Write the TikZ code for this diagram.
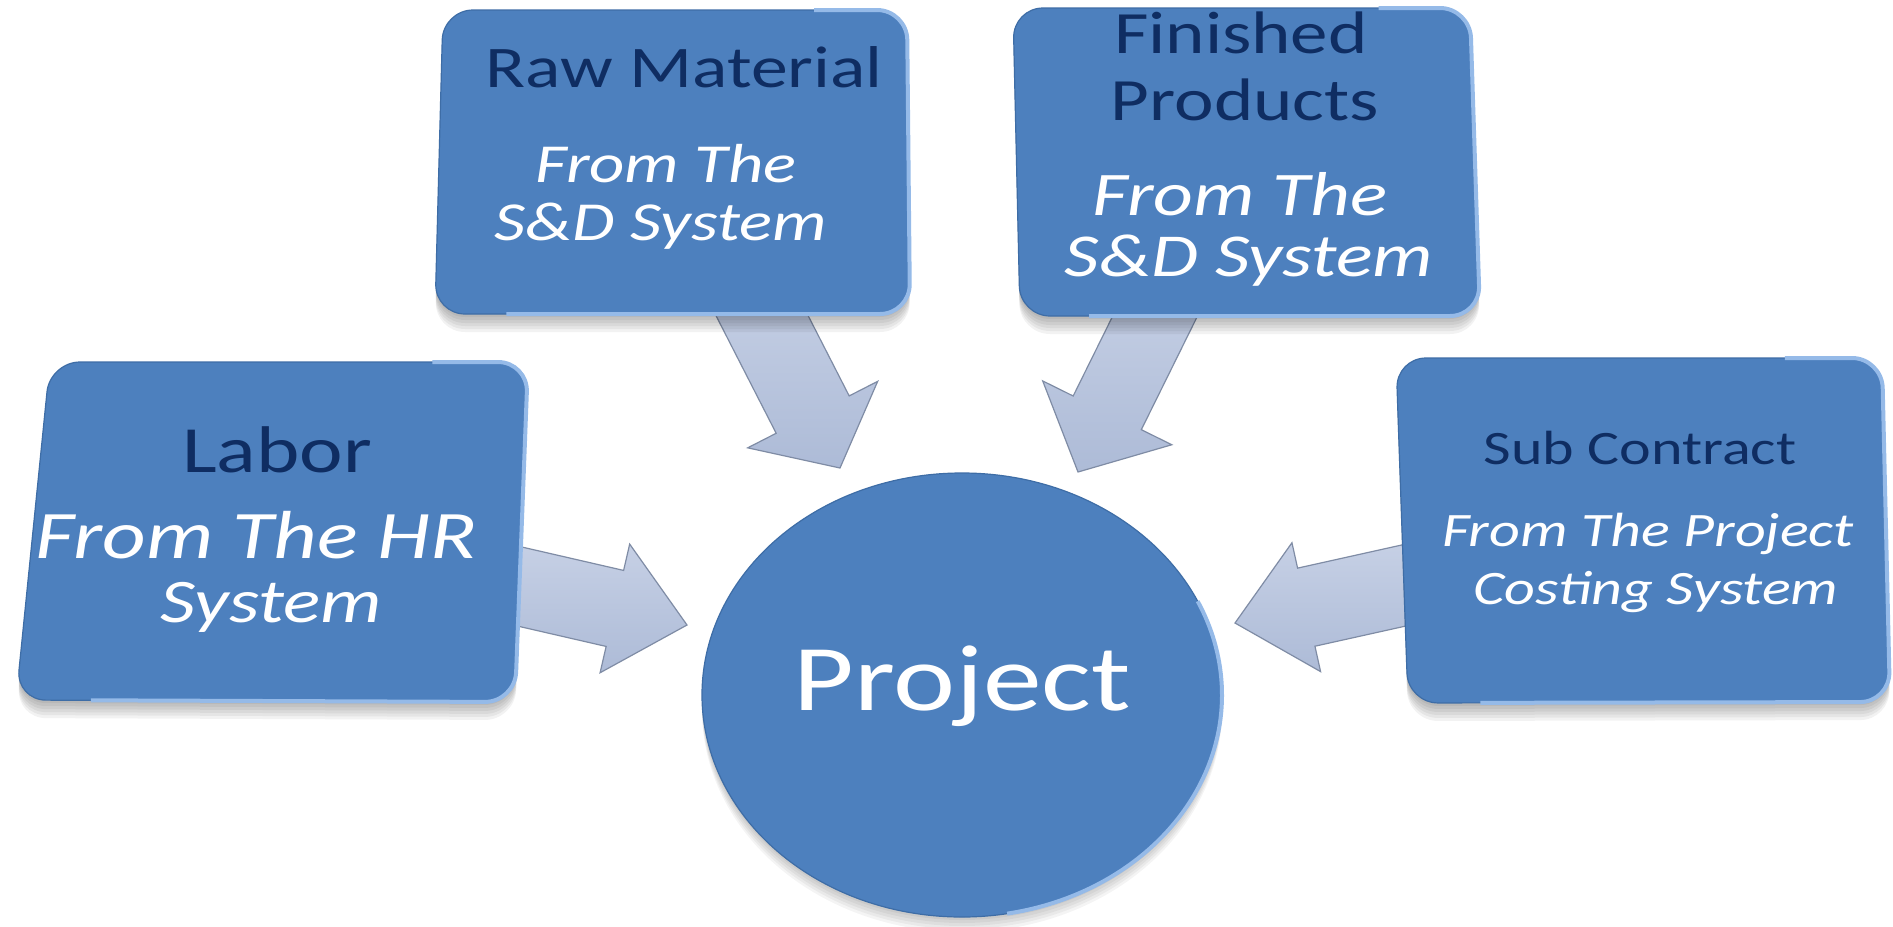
\documentclass[tikz,border=0pt]{standalone}
\usepackage{fontspec}
\setmainfont[FakeStretch=1.25]{Carlito}
\usetikzlibrary{calc,shapes.geometric}
\definecolor{boxblue}{HTML}{4D80BE}
\definecolor{boxrim}{HTML}{95BAE8}
\definecolor{boxedge}{HTML}{3E6DA6}
\definecolor{navy}{HTML}{0F2D62}
\definecolor{arrowtop}{HTML}{C6D0E5}
\definecolor{arrowbot}{HTML}{ADBBD7}
\definecolor{arrowedge}{HTML}{7F8CA5}
\newcommand{\quadbox}[4]{%
  \foreach \s in {3,6,...,18}{
    \fill[black,opacity=0.05,rounded corners=15pt,shift={(0,\s)}]
      ($(#1)!0.5!(#2)$) -- (#2) -- (#3) -- (#4) -- (#1) -- cycle;
  }
  \fill[boxblue,rounded corners=15pt]
    ($(#1)!0.5!(#2)$) -- (#2) -- (#3) -- (#4) -- (#1) -- cycle;
  \draw[boxedge,line width=0.6pt,rounded corners=15pt]
    ($(#1)!0.5!(#2)$) -- (#2) -- (#3) -- (#4) -- (#1) -- cycle;
  \draw[boxrim,line width=2pt,rounded corners=15pt]
    ($(#1)!0.8!(#2)$) -- (#2) -- (#3) -- ($(#3)!0.85!(#4)$);
}
\newcommand{\blkarrow}[5]{%
  \coordinate (#1-n) at ($(#2)!#5!(#1)$);
  \path[top color=arrowtop,bottom color=arrowbot,draw=arrowedge,line width=0.6pt]
    ($(#1)!#3!90:(#2)$) -- ($(#1-n)!#3!90:(#2)$) -- ($(#1-n)!#4!90:(#2)$) -- (#2)
    -- ($(#1-n)!#4!270:(#2)$) -- ($(#1-n)!#3!270:(#2)$) -- ($(#1)!#3!270:(#2)$) -- cycle;
}
\tikzset{
  hdr/.style={font=\fontsize{#1}{#1}\selectfont, text=navy, anchor=base, inner sep=0pt},
  subt/.style={font=\fontsize{#1}{#1}\selectfont\itshape, text=white, anchor=base, inner sep=0pt},
}
\begin{document}
\begin{tikzpicture}[x=0.5pt,y=-0.5pt]
\useasboundingbox (0,0) rectangle (1893,926);
\fill[white] (0,0) rectangle (1893,926);

% arrow end points
\coordinate (laborOut) at (500,582);
\coordinate (laborIn) at (687,625);
\coordinate (rawOut) at (752,296);
\coordinate (rawIn) at (840,468);
\coordinate (finOut) at (1165,296);
\coordinate (finIn) at (1078,472);
\coordinate (subOut) at (1415,583);
\coordinate (subIn) at (1235,623);

% arrows
\blkarrow{laborOut}{laborIn}{19.5pt}{33pt}{37pt}
\blkarrow{rawOut}{rawIn}{20.5pt}{36.5pt}{30pt}
\blkarrow{finOut}{finIn}{19pt}{36pt}{33pt}
\blkarrow{subOut}{subIn}{20pt}{33pt}{36.5pt}

% boxes
\quadbox{50,362}{528,362}{515,702}{16,700}
\quadbox{443,10}{907,10}{910,314}{435,314}
\quadbox{1013,8}{1470,8}{1480,316}{1020,316}
\quadbox{1396,358}{1882,358}{1890,702}{1408,703}

% project circle
\foreach \s in {3,6,...,15}{
  \fill[black,opacity=0.045] (962,695+\s) ellipse [x radius=130pt, y radius=111pt];
}
\node[ellipse, fill=boxblue, draw=boxedge, line width=0.6pt, minimum width=260pt, minimum height=222pt,
      inner sep=0pt] (proj) at (962,695) {};
\draw[boxrim,line width=2pt] (proj.center) ++(-80:130pt and 111pt)
  arc[start angle=-80, end angle=25, x radius=130pt, y radius=111pt];
\node[text=white, inner sep=0pt, font=\fontsize{47}{47}\selectfont] (projT) at (962,686) {Project};

% texts
\node[hdr=33] (laborT) at (277,472) {Labor};
\node[subt=34] (laborA) at (256,558) {From The HR};
\node[subt=31] (laborB) at (271,622) {System};

\node[hdr=29.5] (rawT) at (684,87) {Raw Material};
\node[subt=27.5] (rawA) at (666,182) {From The};
\node[subt=27.5] (rawB) at (661,240) {S\&D System};

\node[hdr=30] (finT) at (1241,53) {Finished};
\node[hdr=30] (finT2) at (1245,120) {Products};
\node[subt=31] (finA) at (1240,215) {From The};
\node[subt=30.5] (finB) at (1249,276) {S\&D System};

\node[hdr=24] (subT) at (1640,464) {Sub Contract};
\node[subt=24] (subA) at (1648,546) {From The Project};
\node[subt=24] (subB) at (1656,604) {Costing System};
\end{tikzpicture}
\end{document}
